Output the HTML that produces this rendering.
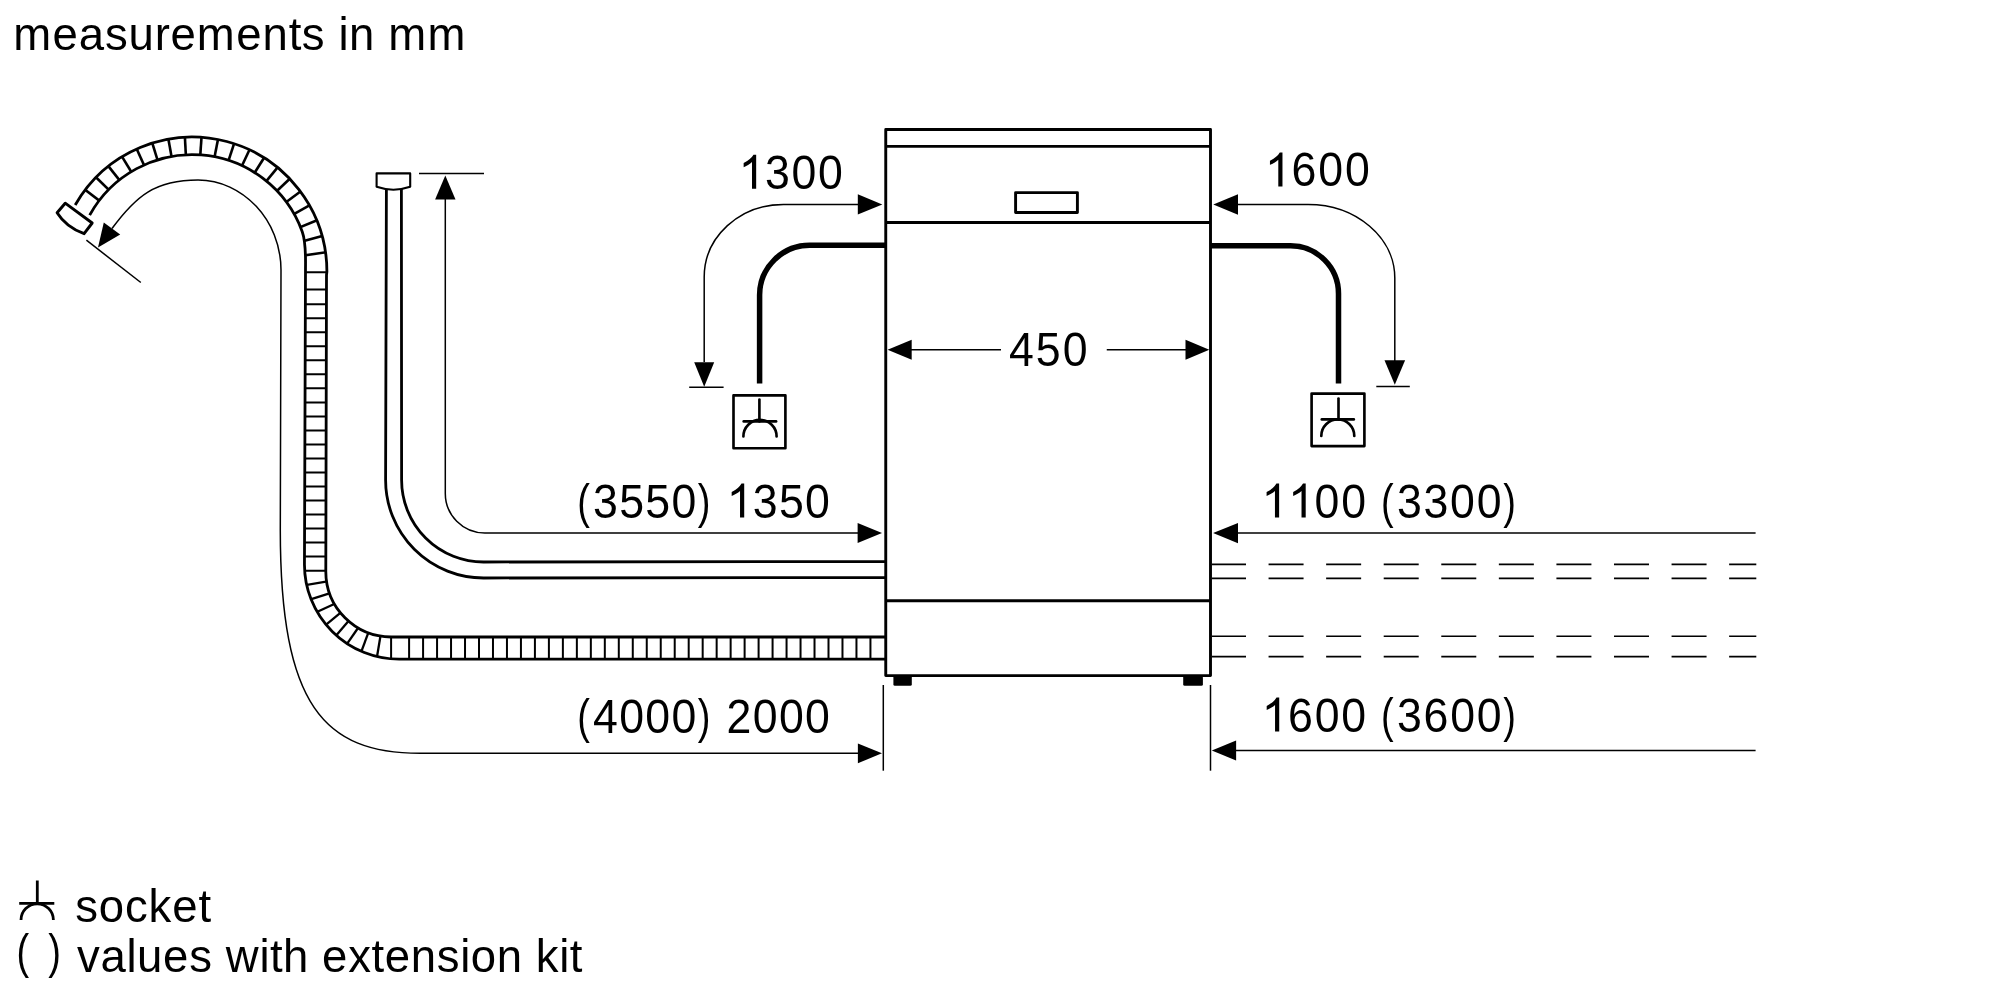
<!DOCTYPE html>
<html><head><meta charset="utf-8">
<style>
html,body{margin:0;padding:0;background:#fff;width:2000px;height:1000px;overflow:hidden}
svg{position:absolute;left:0;top:0;will-change:transform}
text{font-family:"Liberation Sans",sans-serif;font-size:47.5px;fill:#000}
</style></head><body>
<svg width="2000" height="1000" viewBox="0 0 2000 1000">
<rect x="0" y="0" width="2000" height="1000" fill="#fff"/>
<g fill="none" stroke="#000" stroke-width="2.9" stroke-linejoin="round">
<rect x="885.75" y="129.5" width="324.75" height="546.1"/>
<line x1="885.75" y1="146.4" x2="1210.5" y2="146.4"/>
<line x1="885.75" y1="222.5" x2="1210.5" y2="222.5"/>
<line x1="885.75" y1="600.7" x2="1210.5" y2="600.7"/>
<rect x="1015.6" y="192.6" width="61.8" height="19.9"/>
</g>
<rect x="893.4" y="676" width="18.4" height="9.8" rx="1.5" fill="#000"/>
<rect x="1183.2" y="676" width="19.7" height="9.8" rx="1.5" fill="#000"/>
<g fill="none" stroke="#000" stroke-width="2.8" stroke-linejoin="round">
<path d="M 75.2 204.96 A 134.7 134.7 0 0 1 326.9 271.7 L 326.5 275 L 325.8 571.5 A 65.5 65.5 0 0 0 391.3 637 L 885 637"/>
<path d="M 89.68 215.11 A 117.1 117.1 0 0 1 302.24 231.65 C 306.3 242.9 305.5 258 305.5 270 L 304.45 564.4 A 94.75 94.75 0 0 0 399.2 659.15 L 885 659.15"/>
</g>
<defs><clipPath id="band"><polygon points="75.2,204.96 78.22,199.91 81.47,195 84.93,190.23 88.59,185.62 92.45,181.18 96.5,176.9 100.74,172.81 105.15,168.91 109.73,165.2 114.46,161.7 119.34,158.41 124.36,155.33 129.51,152.48 134.78,149.85 140.16,147.46 145.64,145.3 151.21,143.39 156.86,141.72 162.58,140.3 168.35,139.13 174.16,138.21 180.02,137.55 185.89,137.15 191.78,137 197.66,137.11 203.54,137.48 209.4,138.1 215.22,138.98 221,140.11 226.72,141.5 232.38,143.13 237.96,145.01 243.45,147.13 248.85,149.49 254.14,152.08 259.31,154.91 264.35,157.95 269.25,161.21 274,164.69 278.6,168.36 283.04,172.24 287.3,176.3 291.38,180.55 295.27,184.97 298.96,189.56 302.45,194.3 305.72,199.2 308.78,204.23 311.62,209.39 314.23,214.67 316.61,220.05 318.74,225.54 320.64,231.12 322.29,236.77 323.69,242.49 324.85,248.26 325.74,254.08 326.39,259.94 326.77,265.81 326.9,271.7 326.5,275 325.8,571.5 325.8,571.5 325.82,573.21 325.89,574.93 326,576.64 326.16,578.35 326.36,580.05 326.61,581.75 326.9,583.44 327.23,585.12 327.61,586.79 328.03,588.45 328.5,590.1 329.01,591.74 329.56,593.36 330.15,594.97 330.79,596.57 331.46,598.14 332.18,599.7 332.94,601.24 333.74,602.75 334.58,604.25 335.45,605.72 336.37,607.17 337.32,608.6 338.31,610 339.34,611.37 340.4,612.72 341.49,614.04 342.62,615.33 343.79,616.59 344.98,617.82 346.21,619.01 347.47,620.18 348.76,621.31 350.08,622.4 351.43,623.46 352.8,624.49 354.2,625.48 355.63,626.43 357.08,627.35 358.55,628.22 360.05,629.06 361.56,629.86 363.1,630.62 364.66,631.34 366.23,632.01 367.83,632.65 369.44,633.24 371.06,633.79 372.7,634.3 374.35,634.77 376.01,635.19 377.68,635.57 379.36,635.9 381.05,636.19 382.75,636.44 384.45,636.64 386.16,636.8 387.87,636.91 389.59,636.98 391.3,637 885,637 885,659.15 399.2,659.15 396.72,659.12 394.24,659.02 391.77,658.86 389.3,658.63 386.83,658.34 384.38,657.98 381.93,657.56 379.5,657.08 377.08,656.53 374.68,655.92 372.29,655.25 369.92,654.51 367.57,653.72 365.24,652.86 362.94,651.94 360.66,650.96 358.41,649.92 356.18,648.82 353.99,647.67 351.82,646.46 349.69,645.19 347.6,643.86 345.53,642.49 343.51,641.05 341.52,639.57 339.57,638.03 337.66,636.45 335.8,634.81 333.98,633.13 332.2,631.4 330.47,629.62 328.79,627.8 327.15,625.94 325.57,624.03 324.03,622.08 322.55,620.09 321.11,618.07 319.74,616 318.41,613.91 317.14,611.77 315.93,609.61 314.78,607.42 313.68,605.19 312.64,602.94 311.66,600.66 310.74,598.36 309.88,596.03 309.09,593.68 308.35,591.31 307.68,588.92 307.07,586.52 306.52,584.1 306.04,581.67 305.62,579.22 305.26,576.77 304.97,574.3 304.74,571.83 304.58,569.36 304.48,566.88 304.45,564.4 304.45,564.4 305.5,270 305.51,268.18 305.52,266.31 305.53,264.41 305.55,262.48 305.56,260.53 305.56,258.55 305.55,256.56 305.52,254.56 305.47,252.55 305.39,250.54 305.28,248.54 305.14,246.55 304.96,244.58 304.73,242.63 304.46,240.7 304.14,238.81 303.76,236.95 303.32,235.13 302.81,233.37 302.24,231.65 302.24,231.65 300.63,227.48 298.87,223.38 296.95,219.35 294.87,215.39 292.65,211.52 290.29,207.73 287.78,204.04 285.13,200.45 282.34,196.96 279.43,193.57 276.38,190.3 273.22,187.15 269.94,184.13 266.54,181.23 263.04,178.46 259.43,175.82 255.73,173.33 251.93,170.98 248.05,168.78 244.08,166.72 240.04,164.82 235.93,163.07 231.76,161.48 227.53,160.06 223.25,158.79 218.92,157.69 214.55,156.75 210.16,155.98 205.73,155.38 201.29,154.95 196.83,154.69 192.36,154.6 187.9,154.68 183.44,154.93 178.99,155.35 174.57,155.94 170.17,156.69 165.8,157.62 161.47,158.7 157.18,159.96 152.95,161.37 148.77,162.95 144.66,164.69 140.61,166.58 136.64,168.62 132.75,170.81 128.95,173.15 125.24,175.64 121.62,178.26 118.11,181.02 114.71,183.91 111.42,186.93 108.24,190.07 105.19,193.33 102.27,196.7 99.47,200.19 96.81,203.77 94.29,207.46 91.92,211.24 89.68,215.11"/></clipPath></defs>
<g clip-path="url(#band)" stroke="#000">
<line x1="82.81" y1="188.06" x2="107.12" y2="206.65" stroke-width="2.6"/>
<line x1="93.93" y1="175.24" x2="115.77" y2="196.67" stroke-width="2.6"/>
<line x1="106.55" y1="163.88" x2="125.59" y2="187.84" stroke-width="2.6"/>
<line x1="120.48" y1="154.15" x2="136.42" y2="180.27" stroke-width="2.6"/>
<line x1="135.49" y1="146.22" x2="148.09" y2="174.1" stroke-width="2.6"/>
<line x1="151.37" y1="140.19" x2="160.44" y2="169.42" stroke-width="2.6"/>
<line x1="167.86" y1="136.17" x2="173.27" y2="166.29" stroke-width="2.6"/>
<line x1="184.73" y1="134.2" x2="186.39" y2="164.76" stroke-width="2.6"/>
<line x1="201.71" y1="134.33" x2="199.6" y2="164.86" stroke-width="2.6"/>
<line x1="218.55" y1="136.54" x2="212.69" y2="166.58" stroke-width="2.6"/>
<line x1="234.98" y1="140.81" x2="225.47" y2="169.9" stroke-width="2.6"/>
<line x1="250.76" y1="147.07" x2="237.75" y2="174.77" stroke-width="2.6"/>
<line x1="265.66" y1="155.23" x2="249.33" y2="181.11" stroke-width="2.6"/>
<line x1="279.44" y1="165.16" x2="260.05" y2="188.83" stroke-width="2.6"/>
<line x1="291.89" y1="176.7" x2="269.73" y2="197.81" stroke-width="2.6"/>
<line x1="302.82" y1="189.7" x2="278.24" y2="207.92" stroke-width="2.6"/>
<line x1="312.07" y1="203.94" x2="285.43" y2="218.99" stroke-width="2.6"/>
<line x1="319.5" y1="219.2" x2="291.21" y2="230.87" stroke-width="2.6"/>
<line x1="324.99" y1="235.27" x2="295.48" y2="243.37" stroke-width="2.6"/>
<line x1="328.47" y1="251.89" x2="298.19" y2="256.29" stroke-width="2.6"/>
<line x1="298" y1="272.3" x2="334" y2="272.3" stroke-width="2"/>
<line x1="298" y1="289.5" x2="334" y2="289.5" stroke-width="2"/>
<line x1="298" y1="304.25" x2="334" y2="304.25" stroke-width="2"/>
<line x1="298" y1="318.27" x2="334" y2="318.27" stroke-width="2"/>
<line x1="298" y1="332.29" x2="334" y2="332.29" stroke-width="2"/>
<line x1="298" y1="346.31" x2="334" y2="346.31" stroke-width="2"/>
<line x1="298" y1="360.33" x2="334" y2="360.33" stroke-width="2"/>
<line x1="298" y1="374.35" x2="334" y2="374.35" stroke-width="2"/>
<line x1="298" y1="388.37" x2="334" y2="388.37" stroke-width="2"/>
<line x1="298" y1="402.39" x2="334" y2="402.39" stroke-width="2"/>
<line x1="298" y1="416.41" x2="334" y2="416.41" stroke-width="2"/>
<line x1="298" y1="430.43" x2="334" y2="430.43" stroke-width="2"/>
<line x1="298" y1="444.45" x2="334" y2="444.45" stroke-width="2"/>
<line x1="298" y1="458.47" x2="334" y2="458.47" stroke-width="2"/>
<line x1="298" y1="472.49" x2="334" y2="472.49" stroke-width="2"/>
<line x1="298" y1="486.51" x2="334" y2="486.51" stroke-width="2"/>
<line x1="298" y1="500.53" x2="334" y2="500.53" stroke-width="2"/>
<line x1="298" y1="514.55" x2="334" y2="514.55" stroke-width="2"/>
<line x1="298" y1="528.57" x2="334" y2="528.57" stroke-width="2"/>
<line x1="298" y1="542.59" x2="334" y2="542.59" stroke-width="2"/>
<line x1="298" y1="556.61" x2="334" y2="556.61" stroke-width="2"/>
<line x1="298" y1="570.63" x2="334" y2="570.63" stroke-width="2"/>
<line x1="303.05" y1="585.46" x2="328.95" y2="581.14" stroke-width="2.3"/>
<line x1="307.39" y1="600.42" x2="331.81" y2="592.58" stroke-width="2.3"/>
<line x1="313.57" y1="613.48" x2="336.43" y2="602.92" stroke-width="2.3"/>
<line x1="322.5" y1="627.53" x2="341.9" y2="611.67" stroke-width="2.3"/>
<line x1="333.8" y1="638.24" x2="349.8" y2="619.56" stroke-width="2.3"/>
<line x1="344.92" y1="646.88" x2="359.08" y2="626.52" stroke-width="2.3"/>
<line x1="360.21" y1="654.55" x2="368.99" y2="630.85" stroke-width="2.3"/>
<line x1="376.54" y1="659.55" x2="380.86" y2="633.65" stroke-width="2.3"/>
<line x1="391.1" y1="633" x2="391.1" y2="663.15" stroke-width="2"/>
<line x1="409.1" y1="633" x2="409.1" y2="663.15" stroke-width="2"/>
<line x1="423.08" y1="633" x2="423.08" y2="663.15" stroke-width="2"/>
<line x1="437.06" y1="633" x2="437.06" y2="663.15" stroke-width="2"/>
<line x1="451.04" y1="633" x2="451.04" y2="663.15" stroke-width="2"/>
<line x1="465.02" y1="633" x2="465.02" y2="663.15" stroke-width="2"/>
<line x1="479" y1="633" x2="479" y2="663.15" stroke-width="2"/>
<line x1="492.98" y1="633" x2="492.98" y2="663.15" stroke-width="2"/>
<line x1="506.96" y1="633" x2="506.96" y2="663.15" stroke-width="2"/>
<line x1="520.94" y1="633" x2="520.94" y2="663.15" stroke-width="2"/>
<line x1="534.92" y1="633" x2="534.92" y2="663.15" stroke-width="2"/>
<line x1="548.9" y1="633" x2="548.9" y2="663.15" stroke-width="2"/>
<line x1="562.88" y1="633" x2="562.88" y2="663.15" stroke-width="2"/>
<line x1="576.86" y1="633" x2="576.86" y2="663.15" stroke-width="2"/>
<line x1="590.84" y1="633" x2="590.84" y2="663.15" stroke-width="2"/>
<line x1="604.82" y1="633" x2="604.82" y2="663.15" stroke-width="2"/>
<line x1="618.8" y1="633" x2="618.8" y2="663.15" stroke-width="2"/>
<line x1="632.78" y1="633" x2="632.78" y2="663.15" stroke-width="2"/>
<line x1="646.76" y1="633" x2="646.76" y2="663.15" stroke-width="2"/>
<line x1="660.74" y1="633" x2="660.74" y2="663.15" stroke-width="2"/>
<line x1="674.72" y1="633" x2="674.72" y2="663.15" stroke-width="2"/>
<line x1="688.7" y1="633" x2="688.7" y2="663.15" stroke-width="2"/>
<line x1="702.68" y1="633" x2="702.68" y2="663.15" stroke-width="2"/>
<line x1="716.66" y1="633" x2="716.66" y2="663.15" stroke-width="2"/>
<line x1="730.64" y1="633" x2="730.64" y2="663.15" stroke-width="2"/>
<line x1="744.62" y1="633" x2="744.62" y2="663.15" stroke-width="2"/>
<line x1="758.6" y1="633" x2="758.6" y2="663.15" stroke-width="2"/>
<line x1="772.58" y1="633" x2="772.58" y2="663.15" stroke-width="2"/>
<line x1="786.56" y1="633" x2="786.56" y2="663.15" stroke-width="2"/>
<line x1="800.54" y1="633" x2="800.54" y2="663.15" stroke-width="2"/>
<line x1="814.52" y1="633" x2="814.52" y2="663.15" stroke-width="2"/>
<line x1="828.5" y1="633" x2="828.5" y2="663.15" stroke-width="2"/>
<line x1="842.48" y1="633" x2="842.48" y2="663.15" stroke-width="2"/>
<line x1="856.46" y1="633" x2="856.46" y2="663.15" stroke-width="2"/>
<line x1="870.44" y1="633" x2="870.44" y2="663.15" stroke-width="2"/>
</g>
<path d="M 65.2 203.2 L 92.2 223 L 84.1 233.7 Q 66 227 57.1 212.7 Z" fill="#fff" stroke="#000" stroke-width="2.9" stroke-linejoin="round"/>
<path d="M 112 228.5 C 136 196 155 180 198 180 C 242.7 180 281 220.3 281 270 L 280.3 530 C 280.3 706 324.2 753.3 420.1 753.3 L 858 753.3" fill="none" stroke="#000" stroke-width="1.5"/>
<line x1="86.4" y1="240.2" x2="140.8" y2="282.5" stroke="#000" stroke-width="1.5"/>
<line x1="883.3" y1="685" x2="883.3" y2="770.7" stroke="#000" stroke-width="1.5"/>
<line x1="1210.5" y1="685" x2="1210.5" y2="770.7" stroke="#000" stroke-width="1.5"/>
<path d="M 98 247.5 L 103.79 222.45 L 120.21 234.55 Z" fill="#000"/>
<path d="M 882 753.3 L 857.9 763.2 L 857.9 743.4 Z" fill="#000"/>
<g fill="none" stroke="#000" stroke-width="2.8">
<path d="M 386.4 188 L 385.6 480 A 98 98 0 0 0 483.6 578 L 885 577.6"/>
<path d="M 401.4 188 L 401.6 480 A 82 82 0 0 0 483.6 562 L 885 561.6"/>
</g>
<path d="M 376.6 173.4 L 410.2 173.4 L 410.2 186.8 A 51.8 51.8 0 0 1 376.6 186.8 Z" fill="#fff" stroke="#000" stroke-width="2.1" stroke-linejoin="round"/>
<g fill="none" stroke="#000" stroke-width="1.5">
<line x1="419" y1="173.5" x2="484" y2="173.5"/>
<path d="M 445.3 199 L 445.3 493 A 39.5 39.5 0 0 0 484.8 532.9 L 858 532.9"/>
</g>
<path d="M 445.3 175.6 L 455.5 199.6 L 435.1 199.6 Z" fill="#000"/>
<path d="M 882 532.9 L 857.6 542.9 L 857.6 522.9 Z" fill="#000"/>
<path d="M 759.6 383.5 L 759.6 295 A 50 50 0 0 1 809.6 245.3 L 885 245.3" fill="none" stroke="#000" stroke-width="5.5"/>
<path d="M 1338.5 383.5 L 1338.5 294 A 48 48 0 0 0 1290.5 245.8 L 1210 245.8" fill="none" stroke="#000" stroke-width="5.5"/>
<g fill="none" stroke="#000" stroke-width="1.5">
<path d="M 858 204.4 L 783.4 204.4 C 739.7 204.4 704.2 236.8 704.2 277 L 704.2 362"/>
<line x1="689.2" y1="387.3" x2="723.6" y2="387.3"/>
<path d="M 1238 204.5 L 1308 204.5 C 1356 204.5 1394.8 237.4 1394.8 278 L 1394.8 361"/>
<line x1="1376.3" y1="386.4" x2="1409.8" y2="386.4"/>
</g>
<path d="M 882.3 204.4 L 857.8 214.5 L 857.8 194.3 Z" fill="#000"/>
<path d="M 704.2 386.8 L 694.2 362.2 L 714.2 362.2 Z" fill="#000"/>
<path d="M 1213.3 204.5 L 1238 194.3 L 1238 214.7 Z" fill="#000"/>
<path d="M 1394.8 384.8 L 1384.5 360.3 L 1405.1 360.3 Z" fill="#000"/>
<g fill="none" stroke="#000" stroke-width="2.64" stroke-linecap="round">
<rect x="733.5" y="395.4" width="51.9" height="52.8" stroke-linejoin="round"/>
<line x1="759.4" y1="399.5" x2="759.4" y2="421.4"/>
<line x1="743.7" y1="421.4" x2="776.1" y2="421.4"/>
<path d="M 743.4 436.5 A 16.1 16.1 0 0 1 776.6 436.5"/>
</g>
<g fill="none" stroke="#000" stroke-width="2.64" stroke-linecap="round">
<rect x="1311.6" y="393.6" width="52.8" height="52.5" stroke-linejoin="round"/>
<line x1="1338.5" y1="398.6" x2="1338.5" y2="419.4"/>
<line x1="1321.8" y1="419.4" x2="1353.8" y2="419.4"/>
<path d="M 1321.3 435.9 A 16.5 16.5 0 0 1 1354.3 435.9"/>
</g>
<g fill="none" stroke="#000" stroke-width="1.5">
<line x1="911" y1="349.8" x2="1001" y2="349.8"/>
<line x1="1106.75" y1="349.8" x2="1186" y2="349.8"/>
<line x1="1237" y1="533.1" x2="1755.6" y2="533.1"/>
<line x1="1236" y1="750.5" x2="1755.6" y2="750.5"/>
</g>
<path d="M 887.6 349.8 L 911.7 339.8 L 911.7 359.8 Z" fill="#000"/>
<path d="M 1209.3 349.8 L 1185.5 359.8 L 1185.5 339.8 Z" fill="#000"/>
<path d="M 1213.1 533.1 L 1238 522.9 L 1238 543.3 Z" fill="#000"/>
<path d="M 1211.8 750.5 L 1236.1 740.6 L 1236.1 760.4 Z" fill="#000"/>
<g fill="none" stroke="#000" stroke-width="1.6" stroke-dasharray="35 22.57" stroke-dashoffset="1">
<line x1="1212" y1="564.4" x2="1756.3" y2="564.4"/>
<line x1="1212" y1="578.4" x2="1756.3" y2="578.4"/>
<line x1="1212" y1="636.2" x2="1756.3" y2="636.2"/>
<line x1="1212" y1="656.6" x2="1756.3" y2="656.6"/>
</g>
<path d="M 756.17 188.7 L 752 188.7 L 752 162.1 Q 750.49 163.54 748.06 164.97 Q 745.62 166.41 743.65 167.13 L 743.65 163.09 Q 747.15 161.45 749.77 159.11 Q 752.39 156.76 753.48 154.7 L 756.17 154.7 Z" fill="#000"/>
<text transform="translate(765.02 188.7) scale(0.94 1)" style="font-size:47.5px">3</text>
<text transform="translate(791.57 188.7) scale(0.94 1)" style="font-size:47.5px">0</text>
<text transform="translate(818.11 188.7) scale(0.94 1)" style="font-size:47.5px">0</text>
<path d="M 1282.47 186.4 L 1278.3 186.4 L 1278.3 159.8 Q 1276.79 161.24 1274.36 162.67 Q 1271.92 164.11 1269.95 164.83 L 1269.95 160.79 Q 1273.45 159.15 1276.07 156.81 Q 1278.69 154.46 1279.78 152.4 L 1282.47 152.4 Z" fill="#000"/>
<text transform="translate(1291.52 186.4) scale(0.94 1)" style="font-size:47.5px">6</text>
<text transform="translate(1318.27 186.4) scale(0.94 1)" style="font-size:47.5px">0</text>
<text transform="translate(1345.01 186.4) scale(0.94 1)" style="font-size:47.5px">0</text>
<text transform="translate(1008.88 366) scale(0.94 1)" style="font-size:47.5px">4</text>
<text transform="translate(1035.79 366) scale(0.94 1)" style="font-size:47.5px">5</text>
<text transform="translate(1062.71 366) scale(0.94 1)" style="font-size:47.5px">0</text>
<text transform="translate(577.24 517.6) scale(0.8 1)" style="font-size:47.5px">(</text>
<text transform="translate(592.93 517.6) scale(0.94 1)" style="font-size:47.5px">3</text>
<text transform="translate(619.13 517.6) scale(0.94 1)" style="font-size:47.5px">5</text>
<text transform="translate(645.33 517.6) scale(0.94 1)" style="font-size:47.5px">5</text>
<text transform="translate(671.53 517.6) scale(0.94 1)" style="font-size:47.5px">0</text>
<text transform="translate(697.73 517.6) scale(0.8 1)" style="font-size:47.5px">)</text>
<path d="M 744.21 517.6 L 740.03 517.6 L 740.03 491 Q 738.52 492.44 736.09 493.87 Q 733.65 495.31 731.68 496.03 L 731.68 491.99 Q 735.18 490.35 737.81 488.01 Q 740.43 485.66 741.52 483.6 L 744.21 483.6 Z" fill="#000"/>
<text transform="translate(752.71 517.6) scale(0.94 1)" style="font-size:47.5px">3</text>
<text transform="translate(778.91 517.6) scale(0.94 1)" style="font-size:47.5px">5</text>
<text transform="translate(805.11 517.6) scale(0.94 1)" style="font-size:47.5px">0</text>
<text transform="translate(577.24 732.9) scale(0.8 1)" style="font-size:47.5px">(</text>
<text transform="translate(592.93 732.9) scale(0.94 1)" style="font-size:47.5px">4</text>
<text transform="translate(619.13 732.9) scale(0.94 1)" style="font-size:47.5px">0</text>
<text transform="translate(645.33 732.9) scale(0.94 1)" style="font-size:47.5px">0</text>
<text transform="translate(671.53 732.9) scale(0.94 1)" style="font-size:47.5px">0</text>
<text transform="translate(697.73 732.9) scale(0.8 1)" style="font-size:47.5px">)</text>
<text transform="translate(726.51 732.9) scale(0.94 1)" style="font-size:47.5px">2</text>
<text transform="translate(752.71 732.9) scale(0.94 1)" style="font-size:47.5px">0</text>
<text transform="translate(778.91 732.9) scale(0.94 1)" style="font-size:47.5px">0</text>
<text transform="translate(805.11 732.9) scale(0.94 1)" style="font-size:47.5px">0</text>
<path d="M 1279.12 517.6 L 1274.95 517.6 L 1274.95 491 Q 1273.44 492.44 1271.01 493.87 Q 1268.57 495.31 1266.6 496.03 L 1266.6 491.99 Q 1270.1 490.35 1272.72 488.01 Q 1275.34 485.66 1276.43 483.6 L 1279.12 483.6 Z" fill="#000"/>
<path d="M 1305.7 517.6 L 1301.52 517.6 L 1301.52 491 Q 1300.02 492.44 1297.58 493.87 Q 1295.14 495.31 1293.17 496.03 L 1293.17 491.99 Q 1296.68 490.35 1299.3 488.01 Q 1301.92 485.66 1303.01 483.6 L 1305.7 483.6 Z" fill="#000"/>
<text transform="translate(1314.57 517.6) scale(0.94 1)" style="font-size:47.5px">0</text>
<text transform="translate(1341.15 517.6) scale(0.94 1)" style="font-size:47.5px">0</text>
<text transform="translate(1381 517.6) scale(0.8 1)" style="font-size:47.5px">(</text>
<text transform="translate(1396.91 517.6) scale(0.94 1)" style="font-size:47.5px">3</text>
<text transform="translate(1423.48 517.6) scale(0.94 1)" style="font-size:47.5px">3</text>
<text transform="translate(1450.06 517.6) scale(0.94 1)" style="font-size:47.5px">0</text>
<text transform="translate(1476.63 517.6) scale(0.94 1)" style="font-size:47.5px">0</text>
<text transform="translate(1503.2 517.6) scale(0.8 1)" style="font-size:47.5px">)</text>
<path d="M 1279.22 731.5 L 1275.05 731.5 L 1275.05 704.9 Q 1273.54 706.34 1271.11 707.77 Q 1268.67 709.21 1266.7 709.93 L 1266.7 705.89 Q 1270.2 704.25 1272.82 701.91 Q 1275.44 699.56 1276.53 697.5 L 1279.22 697.5 Z" fill="#000"/>
<text transform="translate(1288.1 731.5) scale(0.94 1)" style="font-size:47.5px">6</text>
<text transform="translate(1314.67 731.5) scale(0.94 1)" style="font-size:47.5px">0</text>
<text transform="translate(1341.25 731.5) scale(0.94 1)" style="font-size:47.5px">0</text>
<text transform="translate(1381.1 731.5) scale(0.8 1)" style="font-size:47.5px">(</text>
<text transform="translate(1397.01 731.5) scale(0.94 1)" style="font-size:47.5px">3</text>
<text transform="translate(1423.58 731.5) scale(0.94 1)" style="font-size:47.5px">6</text>
<text transform="translate(1450.16 731.5) scale(0.94 1)" style="font-size:47.5px">0</text>
<text transform="translate(1476.73 731.5) scale(0.94 1)" style="font-size:47.5px">0</text>
<text transform="translate(1503.3 731.5) scale(0.8 1)" style="font-size:47.5px">)</text>
<g fill="none" stroke="#000" stroke-width="2.8" stroke-linecap="butt">
<line x1="37.3" y1="880.5" x2="37.3" y2="903.3"/>
<line x1="19.2" y1="903.3" x2="54.3" y2="903.3"/>
<path d="M 21 920 A 16.2 16.2 0 0 1 53.4 920"/>
</g>
<text transform="translate(13.23 49.75) scale(1 1)" style="font-size:45.5px">m</text>
<text transform="translate(52.54 49.75) scale(1 1)" style="font-size:45.5px">e</text>
<text transform="translate(78.78 49.75) scale(1 1)" style="font-size:45.5px">a</text>
<text transform="translate(105.03 49.75) scale(1 1)" style="font-size:45.5px">s</text>
<text transform="translate(128.62 49.75) scale(1 1)" style="font-size:45.5px">u</text>
<text transform="translate(154.87 49.75) scale(1 1)" style="font-size:45.5px">r</text>
<text transform="translate(170.58 49.75) scale(1 1)" style="font-size:45.5px">e</text>
<text transform="translate(196.83 49.75) scale(1 1)" style="font-size:45.5px">m</text>
<text transform="translate(236.14 49.75) scale(1 1)" style="font-size:45.5px">e</text>
<text transform="translate(262.38 49.75) scale(1 1)" style="font-size:45.5px">n</text>
<text transform="translate(288.63 49.75) scale(1 1)" style="font-size:45.5px">t</text>
<text transform="translate(301.74 49.75) scale(1 1)" style="font-size:45.5px">s</text>
<text transform="translate(338.45 49.75) scale(1 1)" style="font-size:45.5px">i</text>
<text transform="translate(348.93 49.75) scale(1 1)" style="font-size:45.5px">n</text>
<text transform="translate(388.29 49.75) scale(1 1)" style="font-size:45.5px">m</text>
<text transform="translate(427.6 49.75) scale(1 1)" style="font-size:45.5px">m</text>
<text transform="translate(75.23 921.7) scale(1 1)" style="font-size:45.5px">s</text>
<text transform="translate(98.81 921.7) scale(1 1)" style="font-size:45.5px">o</text>
<text transform="translate(125.03 921.7) scale(1 1)" style="font-size:45.5px">c</text>
<text transform="translate(148.6 921.7) scale(1 1)" style="font-size:45.5px">k</text>
<text transform="translate(172.17 921.7) scale(1 1)" style="font-size:45.5px">e</text>
<text transform="translate(198.39 921.7) scale(1 1)" style="font-size:45.5px">t</text>
<text transform="translate(77.09 972.2) scale(1 1)" style="font-size:45.5px">v</text>
<text transform="translate(100.54 972.2) scale(1 1)" style="font-size:45.5px">a</text>
<text transform="translate(126.62 972.2) scale(1 1)" style="font-size:45.5px">l</text>
<text transform="translate(137.03 972.2) scale(1 1)" style="font-size:45.5px">u</text>
<text transform="translate(163.11 972.2) scale(1 1)" style="font-size:45.5px">e</text>
<text transform="translate(189.19 972.2) scale(1 1)" style="font-size:45.5px">s</text>
<text transform="translate(225.66 972.2) scale(1 1)" style="font-size:45.5px">w</text>
<text transform="translate(259.53 972.2) scale(1 1)" style="font-size:45.5px">i</text>
<text transform="translate(269.94 972.2) scale(1 1)" style="font-size:45.5px">t</text>
<text transform="translate(282.97 972.2) scale(1 1)" style="font-size:45.5px">h</text>
<text transform="translate(322.08 972.2) scale(1 1)" style="font-size:45.5px">e</text>
<text transform="translate(348.15 972.2) scale(1 1)" style="font-size:45.5px">x</text>
<text transform="translate(371.6 972.2) scale(1 1)" style="font-size:45.5px">t</text>
<text transform="translate(384.63 972.2) scale(1 1)" style="font-size:45.5px">e</text>
<text transform="translate(410.71 972.2) scale(1 1)" style="font-size:45.5px">n</text>
<text transform="translate(436.78 972.2) scale(1 1)" style="font-size:45.5px">s</text>
<text transform="translate(460.23 972.2) scale(1 1)" style="font-size:45.5px">i</text>
<text transform="translate(470.65 972.2) scale(1 1)" style="font-size:45.5px">o</text>
<text transform="translate(496.72 972.2) scale(1 1)" style="font-size:45.5px">n</text>
<text transform="translate(535.83 972.2) scale(1 1)" style="font-size:45.5px">k</text>
<text transform="translate(559.27 972.2) scale(1 1)" style="font-size:45.5px">i</text>
<text transform="translate(569.69 972.2) scale(1 1)" style="font-size:45.5px">t</text>
<text transform="translate(16.39 967.8) scale(0.8 1)" style="font-size:47.5px">(</text>
<text transform="translate(48.2 967.8) scale(0.8 1)" style="font-size:47.5px">)</text>
</svg>
</body></html>
